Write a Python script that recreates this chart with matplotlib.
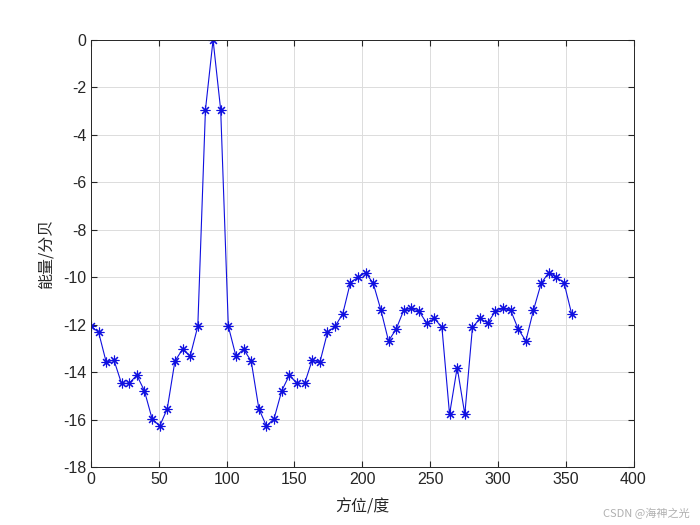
import matplotlib
matplotlib.use('Agg')
import matplotlib.pyplot as plt

# angle grid (deg) and power (dB)
angle = [0, 5.625, 11.25, 16.875, 22.5, 28.125, 33.75, 39.375, 45, 50.625,
         56.25, 61.875, 67.5, 73.125, 78.75, 84.375, 90, 95.625, 101.25, 106.875,
         112.5, 118.125, 123.75, 129.375, 135, 140.625, 146.25, 151.875, 157.5, 163.125,
         168.75, 174.375, 180, 185.625, 191.25, 196.875, 202.5, 208.125, 213.75, 219.375,
         225, 230.625, 236.25, 241.875, 247.5, 253.125, 258.75, 264.375, 270, 275.625,
         281.25, 286.875, 292.5, 298.125, 303.75, 309.375, 315, 320.625, 326.25, 331.875,
         337.5, 343.125, 348.75, 354.375]
power_db = [-12.06, -12.32, -13.58, -13.48, -14.47, -14.47, -14.12, -14.78, -15.95, -16.27,
            -15.53, -13.53, -13.03, -13.32, -12.06, -2.95, 0.0, -2.95, -12.06, -13.32,
            -13.03, -13.53, -15.53, -16.27, -15.95, -14.78, -14.12, -14.47, -14.47, -13.48,
            -13.58, -12.32, -12.06, -11.54, -10.22, -10.0, -9.8, -10.26, -11.38, -12.68,
            -12.18, -11.38, -11.31, -11.43, -11.93, -11.73, -12.11, -15.77, -13.8, -15.77,
            -12.11, -11.73, -11.93, -11.43, -11.31, -11.38, -12.18, -12.68, -11.38, -10.26,
            -9.8, -10.0, -10.22, -11.54]

x_ticks = [0, 50, 100, 150, 200, 250, 300, 350, 400]
y_ticks = [-18, -16, -14, -12, -10, -8, -6, -4, -2, 0]

plt.rcParams['font.family'] = ['Liberation Sans', 'Noto Sans CJK SC', 'DejaVu Sans']
plt.rcParams['axes.unicode_minus'] = False

fig = plt.figure(figsize=(7, 5.25), dpi=100)
ax = fig.add_axes([0.13, 0.11, 0.775, 0.814])

ax.plot(angle, power_db, '-', color='#1010e0', linewidth=0.8,
        marker=(8, 2, 0), markersize=7, markeredgewidth=0.8)

ax.set_xlim(0, 400)
ax.set_ylim(-18, 0)
ax.set_xticks(x_ticks)
ax.set_yticks(y_ticks)
ax.tick_params(direction='in', labelsize=11.5, colors='#262626', length=4,
               top=True, right=True)
ax.grid(True, color='#dcdcdc', linewidth=0.7)
ax.set_axisbelow(True)
for s in ax.spines.values():
    s.set_color('#262626')
    s.set_linewidth(0.7)

cjk = ['Noto Sans CJK SC', 'DejaVu Sans']
ax.set_xlabel('方位/度', family=cjk, fontsize=11.5, color='#262626', labelpad=8)
ax.set_ylabel('能量/分贝', family=cjk, fontsize=11.5, color='#262626', labelpad=6)

fig.text(0.985, 0.012, 'CSDN @海神之光', family=cjk, fontsize=8, color='#b0b0b0',
         ha='right', va='bottom')

fig.savefig('out.png', dpi=100)
